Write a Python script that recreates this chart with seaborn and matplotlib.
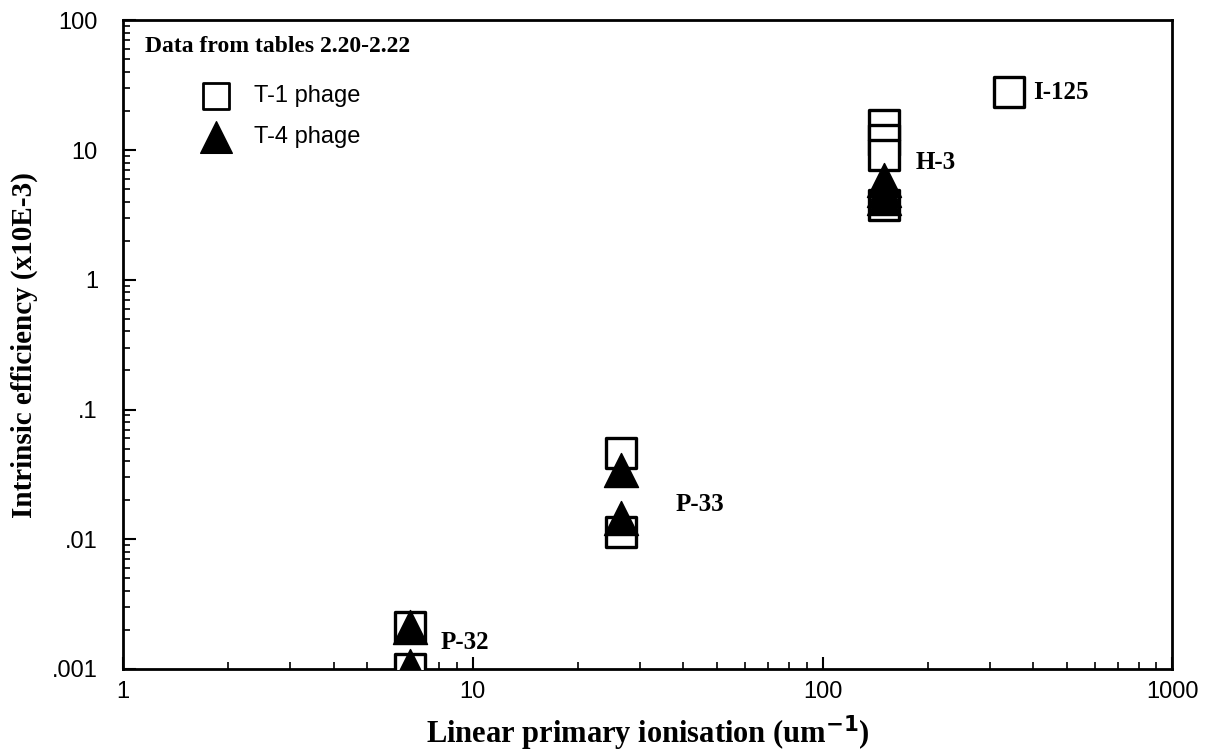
import numpy as np
import pandas as pd
import matplotlib
matplotlib.use("Agg")
import matplotlib.pyplot as plt
import seaborn as sns
from matplotlib.ticker import LogLocator, FixedLocator, FixedFormatter, NullFormatter

# ---- data ----
t1_x = [6.6, 6.6, 26.6, 26.6, 150, 150, 150, 150, 340]
t1_y = [0.0021, 0.001, 0.046, 0.0113, 15.5, 11.9, 9.1, 3.8, 28]
t4_x = [6.6, 6.6, 26.6, 26.6, 150, 150, 150]
t4_y = [0.0021, 0.00105, 0.034, 0.0146, 5.9, 4.9, 4.3]
iso_labels = ["P-32", "P-33", "H-3", "I-125"]
iso_x = [8.1, 38.0, 185, 400]
iso_y = [0.0016, 0.0185, 8.0, 28]
xtick_vals = [1, 10, 100, 1000]
xtick_labels = ["1", "10", "100", "1000"]
ytick_vals = [0.001, 0.01, 0.1, 1, 10, 100]
ytick_labels = [".001", ".01", ".1", "1", "10", "100"]

df1 = pd.DataFrame({"x": t1_x, "y": t1_y})
df4 = pd.DataFrame({"x": t4_x, "y": t4_y})

sns.set_style("white")
plt.rcParams["font.family"] = ["Liberation Sans", "DejaVu Sans"]
plt.rcParams["text.color"] = "black"
plt.rcParams["axes.labelcolor"] = "black"
plt.rcParams["xtick.color"] = "black"
plt.rcParams["ytick.color"] = "black"

fig = plt.figure(figsize=(12.05, 7.53), dpi=100)
ax = fig.add_axes([0.102, 0.1116, 0.871, 0.8614])

sns.scatterplot(data=df1, x="x", y="y", marker="s", s=480, facecolors="white",
                edgecolor="black", linewidth=2.4, ax=ax, zorder=3)
sns.scatterplot(data=df4, x="x", y="y", marker="^", s=600, color="black",
                edgecolor="black", linewidth=1, ax=ax, zorder=4)

ax.set_xscale("log")
ax.set_yscale("log")
ax.set_xlim(1, 1000)
ax.set_ylim(0.001, 100)

ax.xaxis.set_major_locator(FixedLocator(xtick_vals))
ax.xaxis.set_major_formatter(FixedFormatter(xtick_labels))
ax.yaxis.set_major_locator(FixedLocator(ytick_vals))
ax.yaxis.set_major_formatter(FixedFormatter(ytick_labels))
ax.xaxis.set_minor_locator(LogLocator(base=10, subs=np.arange(2, 10), numticks=20))
ax.yaxis.set_minor_locator(LogLocator(base=10, subs=np.arange(2, 10), numticks=20))
ax.xaxis.set_minor_formatter(NullFormatter())
ax.yaxis.set_minor_formatter(NullFormatter())

ax.tick_params(axis="both", which="major", direction="in", length=9, width=1.5,
               labelsize=17, top=False, right=False, bottom=True, left=True,
               colors="black")
ax.tick_params(axis="both", which="minor", direction="in", length=5, width=1.2,
               top=False, right=False, bottom=True, left=True)
ax.tick_params(axis="y", which="major", pad=18)
ax.tick_params(axis="x", which="major", pad=9)

for sp in ax.spines.values():
    sp.set_visible(True)
    sp.set_color("black")
    sp.set_linewidth(2)

serif = ["Liberation Serif", "DejaVu Serif"]
ax.set_xlabel(r"Linear primary ionisation (um$^{\mathbf{-1}}$)", fontsize=22,
              fontweight="bold", family=serif, labelpad=7, color="black")
ax.set_ylabel("Intrinsic efficiency (x10E-3)", fontsize=21, fontweight="bold",
              family=serif, labelpad=10, color="black")

for lab, xx, yy in zip(iso_labels, iso_x, iso_y):
    ax.text(xx, yy, lab, fontsize=18, fontweight="bold", family=serif,
            ha="left", va="center", color="black")

ax.text(0.021, 0.96, "Data from tables 2.20-2.22", transform=ax.transAxes,
        fontsize=17, fontweight="bold", family=serif, ha="left", va="center",
        color="black")

h1 = ax.scatter([], [], marker="s", s=360, facecolors="white", edgecolors="black", linewidths=2)
h4 = ax.scatter([], [], marker="^", s=520, color="black")
leg = ax.legend([h1, h4], ["T-1 phage", "T-4 phage"], loc="upper left",
                bbox_to_anchor=(0.055, 0.918), frameon=False, fontsize=17,
                handletextpad=0.6, labelspacing=0.8, borderpad=0)
for t in leg.get_texts():
    t.set_color("black")

fig.savefig("out.png", dpi=100, facecolor="white")
